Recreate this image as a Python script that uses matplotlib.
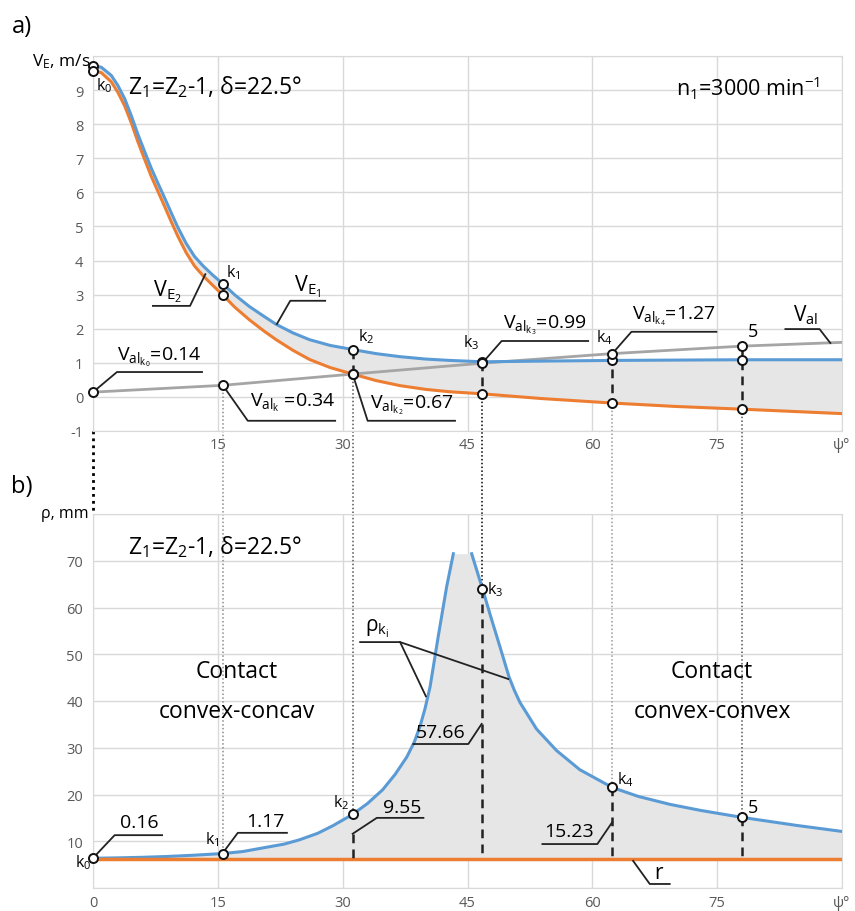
import matplotlib
matplotlib.use('Agg')
import matplotlib.pyplot as plt

plt.rcParams['font.family'] = ['Open Sans', 'DejaVu Sans']
plt.rcParams['mathtext.fontset'] = 'custom'
plt.rcParams['mathtext.rm'] = 'Open Sans'
plt.rcParams['mathtext.it'] = 'Open Sans'
plt.rcParams['mathtext.fallback'] = 'stixsans'
plt.rcParams['lines.solid_joinstyle'] = 'round'

# ---- data, panel a) sliding velocities ----
psi_v = [0, 1, 2.2, 3, 3.8, 4.6, 5.4, 6.2, 7.0, 7.8, 8.6, 9.4, 10.2, 11.2, 12.2,
         13.2, 14.4, 15.6, 17, 18.8, 20.5, 22, 24, 26, 28.5, 31.2, 34, 36.9,
         40, 42.9, 46.8, 54, 62.4, 70, 78, 90]
v_e1 = [9.72, 9.67, 9.43, 9.13, 8.75, 8.25, 7.70, 7.20, 6.71, 6.27, 5.84, 5.40,
        4.97, 4.50, 4.12, 3.85, 3.57, 3.32, 3.0, 2.65, 2.37, 2.13, 1.88, 1.68,
        1.51, 1.39, 1.27, 1.18, 1.11, 1.07, 1.03, 1.05, 1.07, 1.08, 1.09, 1.09]
v_e2 = [9.57, 9.51, 9.24, 8.93, 8.54, 8.04, 7.48, 6.97, 6.47, 6.03, 5.59, 5.14,
        4.71, 4.23, 3.84, 3.56, 3.27, 2.99, 2.64, 2.26, 1.94, 1.68, 1.37, 1.10,
        0.86, 0.67, 0.48, 0.33, 0.22, 0.15, 0.09, -0.05, -0.18, -0.28, -0.36,
        -0.49]
psi_al = [0, 15.6, 31.2, 46.8, 62.4, 78, 90]
v_al = [0.14, 0.34, 0.67, 0.99, 1.27, 1.49, 1.60]

# contact points k0..k4, 5
psi_k = [0, 15.6, 31.2, 46.8, 62.4, 78]
v_e1_k = [9.72, 3.32, 1.39, 1.03, 1.07, 1.09]
v_e2_k = [9.57, 2.99, 0.67, 0.09, -0.18, -0.36]
v_al_k = [0.14, 0.34, 0.67, 0.99, 1.27, 1.49]

# ---- data, panel b) radius of curvature ----
psi_left = [0, 3, 6, 9, 12, 15.6, 18, 20.8, 23, 24.8, 27, 28.8, 31.2, 33, 34.8,
            36.3, 37.7, 38.6, 39.3, 39.9, 40.5, 41.5, 42.5, 43.3]
rho_left = [6.36, 6.45, 6.57, 6.75, 7.0, 7.37, 7.8, 8.7, 9.4, 10.3, 11.7, 13.3,
            15.75, 18.1, 21.0, 24.3, 28.0, 31.2, 34.6, 38.4, 43.0, 54.0, 64.5,
            71.5]
psi_right = [45.5, 46.8, 47.8, 48.9, 50.0, 50.6, 51.3, 53.3, 55.7, 58.5, 62.4,
             65.5, 69.3, 73, 78, 84.5, 90]
rho_right = [71.5, 64.0, 58.0, 51.6, 45.1, 42.4, 39.7, 34.0, 29.4, 25.3, 21.5,
             19.6, 17.9, 16.6, 15.1, 13.4, 12.1]
r_val = 6.2
rho_k = [6.36, 7.37, 15.75, 64.0, 21.5, 15.1]

BLUE = '#5b9bd5'
ORANGE = '#ed7d31'
GREY = '#a5a5a5'
FILL = '#e6e6e6'
GRID = '#d9d9d9'
TICK = '#595959'

fig = plt.figure(figsize=(8.55, 9.12), dpi=100)
ax1 = fig.add_axes([93/855, 1-432/912, 749/855, 375/912])
ax2 = fig.add_axes([93/855, 1-889/912, 749/855, 374/912])

for ax in (ax1, ax2):
    ax.set_xlim(0, 90)
    ax.grid(True, color=GRID, lw=1)
    ax.set_axisbelow(True)
    for s in ax.spines.values():
        s.set_color(GRID)
    ax.tick_params(length=0, labelsize=10.5, labelcolor=TICK)
    ax.set_xticks([0, 15, 30, 45, 60, 75, 90])

ax1.set_ylim(-1, 10)
ax1.set_yticks(range(-1, 11))
ax1.set_yticklabels([str(i) for i in range(-1, 10)] + [''])
ax1.set_xticklabels(['', '15', '30', '45', '60', '75', 'ψ°'])
ax1.tick_params(axis='x', pad=4)
ax1.tick_params(axis='y', pad=7)

ax2.set_ylim(0, 80)
ax2.set_yticks(range(0, 81, 10))
ax2.set_yticklabels([''] + [str(i) for i in range(10, 80, 10)] + [''])
ax2.set_xticklabels(['0', '15', '30', '45', '60', '75', 'ψ°'])
ax2.tick_params(axis='x', pad=5)
ax2.tick_params(axis='y', pad=7)

# ---------------- panel a ----------------
ax1.fill_between(psi_v, v_e2, v_e1, color=FILL, lw=0, zorder=1)
ax1.plot(psi_al, v_al, color=GREY, lw=2, zorder=2)
ax1.plot(psi_v, v_e2, color=ORANGE, lw=2.2, zorder=3)
ax1.plot(psi_v, v_e1, color=BLUE, lw=2.2, zorder=3)

gap_a = -3.43  # top of panel b in panel a data units
dot_cols = ['k', '#8c8c8c', '#555555', 'k', '#9a9a9a', '#555555']
for i, x in enumerate(psi_k):
    low = min(v_e2_k[i], v_al_k[i])
    if i == 0:
        ax1.plot([x, x], [-1, gap_a], ls=(0, (1, 1.5)), color='k', lw=2,
                 clip_on=False, zorder=2)
        continue
    ax1.plot([x, x], [low, gap_a], ls=(0, (1, 1.5)), color=dot_cols[i], lw=1.1,
             clip_on=False, zorder=2)
    if i >= 2:
        top = max(v_e1_k[i], v_al_k[i])
        ax1.plot([x, x], [top, low], ls=(0, (3.5, 2.5)), color='#222222', lw=1.8,
                 zorder=4)

mk = dict(marker='o', ms=6.5, mfc='white', mec='#111111', mew=1.4, ls='none',
          zorder=6, clip_on=False)
ax1.plot(psi_k, v_e1_k, **mk)
ax1.plot(psi_k, v_e2_k, **mk)
ax1.plot(psi_k, v_al_k, **mk)

LC = '#222222'


def leader(ax, xs, ys):
    ax.plot(xs, ys, color=LC, lw=1.3, clip_on=False, zorder=5)


# V_E labels
ax1.text(9.0, 3.1, r'V$_{\mathrm{E}_2}$', fontsize=15.5, ha='center', va='center')
leader(ax1, [7.2, 11.66, 13.5], [2.67, 2.67, 3.6])
ax1.text(25.8, 3.25, r'V$_{\mathrm{E}_1}$', fontsize=15.5, ha='center', va='center')
leader(ax1, [27.9, 23.7, 22.1], [2.82, 2.82, 2.14])

# V_al labels
ax1.text(2.9, 1.2, r'V$_{\mathrm{al}_{\mathrm{k}_0}}$=0.14', fontsize=14, va='center')
leader(ax1, [0, 2.88, 13.1], [0.14, 0.73, 0.73])
ax1.text(18.9, -0.15, r'V$_{\mathrm{al}_{\mathrm{k}}}$ =0.34', fontsize=14, va='center')
leader(ax1, [15.6, 18.6, 29.1], [0.34, -0.70, -0.70])
ax1.text(33.3, -0.2, r'V$_{\mathrm{al}_{\mathrm{k}_2}}$=0.67', fontsize=14, va='center')
leader(ax1, [31.2, 33.0, 43.5], [0.67, -0.70, -0.70])
ax1.text(49.3, 2.14, r'V$_{\mathrm{al}_{\mathrm{k}_3}}$=0.99', fontsize=14, va='center')
leader(ax1, [46.8, 49.1, 59.5], [1.0, 1.64, 1.64])
ax1.text(64.8, 2.4, r'V$_{\mathrm{al}_{\mathrm{k}_4}}$=1.27', fontsize=14, va='center')
leader(ax1, [62.4, 64.7, 74.9], [1.27, 1.91, 1.91])
ax1.text(85.6, 2.43, r'V$_{\mathrm{al}}$', fontsize=15, ha='center', va='center')
leader(ax1, [83.2, 87.3, 88.6], [1.99, 1.99, 1.58])

# k labels panel a
ax1.text(0.4, 9.17, r'k$_0$', fontsize=11.5, va='center')
ax1.text(16.0, 3.67, r'k$_1$', fontsize=11.5, va='center')
ax1.text(31.8, 1.79, r'k$_2$', fontsize=11.5, va='center')
ax1.text(45.4, 1.61, r'k$_3$', fontsize=11.5, ha='center', va='center')
ax1.text(61.4, 1.76, r'k$_4$', fontsize=11.5, ha='center', va='center')
ax1.text(79.3, 1.94, '5', fontsize=13, ha='center', va='center')

ax1.text(4.2, 9.12, r'Z$_1$=Z$_2$-1, δ=22.5°', fontsize=16.5, va='center')
ax1.text(87.4, 9.09, r'n$_1$=3000 min$^{-1}$', fontsize=15.5, ha='right', va='center')
ax1.text(-0.3, 9.85, r'V$_\mathrm{E}$, m/s', fontsize=12.5, ha='right', va='center')
fig.text(22/855, 1-27/912, 'a)', fontsize=17, ha='center', va='center')

# ---------------- panel b ----------------
psi_all = psi_left + psi_right
rho_all = rho_left + rho_right
ax2.fill_between(psi_all, r_val, rho_all, color=FILL, lw=0, zorder=1)
ax2.plot(psi_left, rho_left, color=BLUE, lw=2.2, zorder=3)
ax2.plot(psi_right, rho_right, color=BLUE, lw=2.2, zorder=3)
ax2.axhline(r_val, color=ORANGE, lw=2.5, zorder=3)

dash_from = [None, None, 11.6, 64.0, 21.5, 15.1]
for i, x in enumerate(psi_k):
    if i == 0:
        continue
    ax2.plot([x, x], [80, rho_k[i]], ls=(0, (1, 1.5)), color=dot_cols[i], lw=1.1,
             zorder=2)
    if dash_from[i] is not None:
        ax2.plot([x, x], [dash_from[i], r_val], ls=(0, (3.5, 2.5)), color='#222222',
                 lw=1.8, zorder=4)

ax2.plot(psi_k, rho_k, **mk)

ax2.text(4.2, 73.2, r'Z$_1$=Z$_2$-1, δ=22.5°', fontsize=16.5, va='center')
ax2.text(-0.5, 80.2, 'ρ, mm', fontsize=11.5, ha='right', va='center')
fig.text(22/855, 1-487/912, 'b)', fontsize=17, ha='center', va='center')

ax2.text(17.3, 46.4, 'Contact', fontsize=16.5, ha='center', va='center')
ax2.text(17.3, 37.9, 'convex-concav', fontsize=16.5, ha='center', va='center')
ax2.text(74.4, 46.4, 'Contact', fontsize=16.5, ha='center', va='center')
ax2.text(74.4, 37.9, 'convex-convex', fontsize=16.5, ha='center', va='center')

ax2.text(34.1, 55.6, r'ρ$_{\mathrm{k}_\mathrm{i}}$', fontsize=15, ha='center', va='center')
leader(ax2, [32.1, 36.9, 40.0], [52.6, 52.6, 41.0])
leader(ax2, [36.9, 49.9], [52.6, 44.7])

ax2.text(41.8, 33.3, '57.66', fontsize=14, ha='center', va='center')
leader(ax2, [38.5, 45.1, 46.7], [30.8, 30.8, 35.1])
ax2.text(37.1, 17.3, '9.55', fontsize=14, ha='center', va='center')
leader(ax2, [39.7, 34.1, 31.2], [15.0, 15.0, 11.6])
ax2.text(57.2, 12.2, '15.23', fontsize=14, ha='center', va='center')
leader(ax2, [54.0, 60.6, 62.4], [9.4, 9.4, 14.1])
ax2.text(20.7, 14.3, '1.17', fontsize=14, ha='center', va='center')
leader(ax2, [23.3, 17.4, 15.6], [11.8, 11.8, 7.5])
ax2.text(5.6, 14.1, '0.16', fontsize=14, ha='center', va='center')
leader(ax2, [8.3, 2.6, 0], [11.3, 11.3, 6.4])

ax2.text(-0.2, 5.6, r'k$_0$', fontsize=11.5, ha='right', va='center')
ax2.text(15.2, 10.5, r'k$_1$', fontsize=11.5, ha='right', va='center')
ax2.text(30.8, 18.4, r'k$_2$', fontsize=11.5, ha='right', va='center')
ax2.text(47.3, 64.0, r'k$_3$', fontsize=11.5, va='center')
ax2.text(63.0, 23.3, r'k$_4$', fontsize=11.5, va='center')
ax2.text(79.3, 17.3, '5', fontsize=13, ha='center', va='center')

ax2.text(68.0, 3.3, 'r', fontsize=15, ha='center', va='center')
leader(ax2, [64.9, 66.9, 69.3], [5.8, 0.86, 0.86])

fig.savefig('out.png', dpi=100, facecolor='white')
